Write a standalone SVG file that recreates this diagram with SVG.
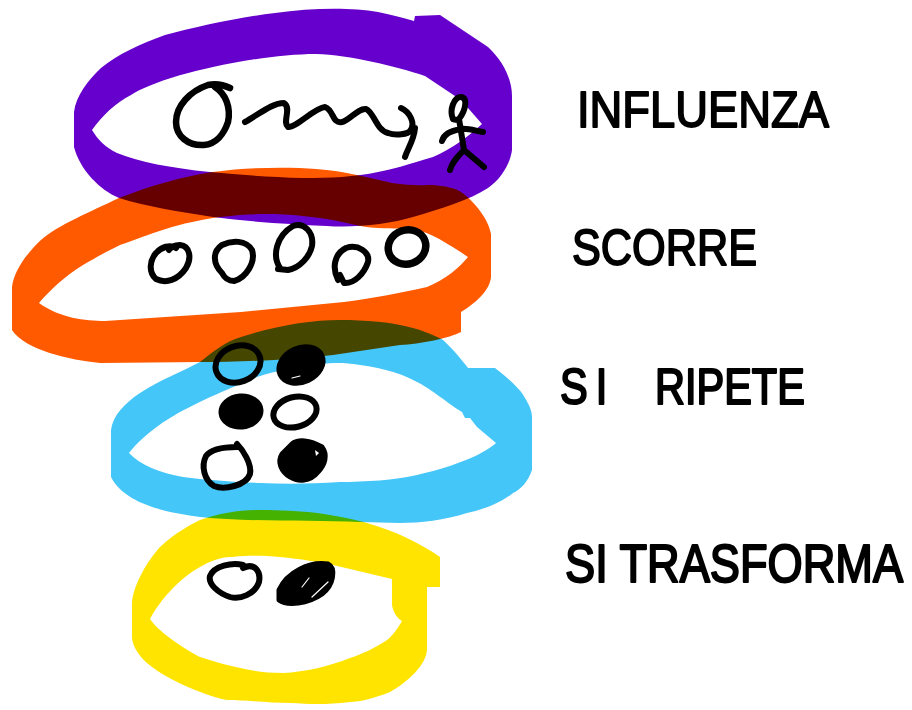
<svg xmlns="http://www.w3.org/2000/svg" width="912" height="710" viewBox="0 0 912 710">
<style>
.ring{fill-rule:evenodd;mix-blend-mode:multiply}
.ink{fill:none;stroke:#000;stroke-width:6;stroke-linecap:round;stroke-linejoin:round}
.solid{fill:#000;stroke:#000;stroke-width:5;stroke-linejoin:round}
.glint{fill:none;stroke:#fff;stroke-width:1.2;stroke-linecap:round}
.label{font-family:"Liberation Sans",Arial,sans-serif;fill:#000;stroke:#000;stroke-width:1.8;stroke-linejoin:round;stroke-linecap:round}
</style>
<rect width="912" height="710" fill="#fff"/>
<g id="ring-influenza">
<path class="ring" fill="#6600cc" d="M74 147L74 112C76 96 88 80 101 68C118 54 140 44 165 35C195 27 240 17 275 13C310 8 350 7 378 12C392 15 404 18 414 21L415 16L440 15L488 47C502 60 512 78 512 96L512 150C510 165 500 180 488 188C470 200 440 209 413 217C390 224 355 228 327 226C290 224 250 222 213 217C180 212 145 206 119 198C100 190 80 170 74 147Z M92 130C102 116 115 103 131 95C150 83 185 73 213 67C245 60 285 54 316 54C350 55 395 66 425 76L461 100L482 124C470 135 452 149 433 157C410 164 390 170 378 172C355 177 330 178 303 178C270 177 240 175 210 172C170 168 140 162 117 153C105 147 98 140 92 130Z"/>
</g>
<g id="ring-scorre">
<path class="ring" fill="#ff5a00" d="M12 330L12 287C14 270 28 252 41 240C58 225 90 212 119 198C150 186 180 177 213 172C250 167 290 167 316 169C345 171 370 178 392 183C410 186 425 185 433 185C445 186 455 188 461 192C470 198 488 216 491 234L491 277C490 290 476 303 461 312L461 332C450 338 420 344 400 345L333 355C290 360 240 362 200 362L100 363C70 360 25 350 12 330Z M39 303C50 290 65 276 83 265C100 255 110 250 120 245C140 238 155 232 172 227C190 222 205 219 220 217C245 214 260 214 275 214C300 215 325 218 342 222C355 225 370 228 378 228C395 229 405 228 416 230C430 232 450 245 468 257C460 267 445 280 427 287C400 293 375 298 344 302L241 312L105 321C85 321 60 318 39 303Z"/>
</g>
<g id="ring-ripete">
<path class="ring" fill="#45c6f8" d="M111 477L111 430C113 415 125 403 140 393C160 380 185 370 200 362C215 350 225 342 241 337C275 326 310 320 340 320C365 320 392 322 413 328C430 333 440 338 443 340C452 348 462 360 468 368L495 368C505 376 520 388 525 398C530 406 532 412 532 417L532 470C528 482 520 490 513 493C498 505 480 510 467 513C445 520 420 523 400 523L360 522C310 520 250 522 200 517C170 513 125 505 111 477Z M129 453C135 445 150 430 170 418C190 405 230 388 257 377C280 369 320 362 343 363C370 365 400 372 417 382C430 388 450 405 462 412L465 418L470 418L477 427L496 443C485 453 460 465 417 475C395 480 365 482 340 482C310 484 285 484 260 483C235 482 205 480 183 477C160 473 140 465 129 453Z"/>
</g>
<g id="ring-trasforma">
<path class="ring" fill="#ffe400" d="M132 637L132 603C133 585 148 560 160 547C175 533 190 525 200 520C220 513 240 510 260 510C280 510 300 511 317 513C340 516 355 520 367 523C395 531 420 543 440 557L440 587L427 587L427 650C426 665 408 682 390 692C375 698 360 702 350 702C325 705 310 704 290 703C270 703 245 700 227 700C200 695 160 675 147 663C138 655 132 645 132 637Z M150 619C160 600 180 578 200 567C215 558 225 557 233 557C250 555 265 556 280 557C300 559 320 562 333 565L392 579L392 605C393 612 397 618 402 621C397 630 390 638 387 640C375 648 360 655 350 658C330 666 305 672 283 673C270 673 260 672 250 670C230 666 215 662 200 657C190 652 160 634 150 619Z"/>
</g>
<g id="sketch-influenza">
<path class="ink" style="stroke-width:6.5" d="M230 88C222 84 216 83 208 85C190 91 176 106 176 122C176 136 188 146 204 145C216 144 224 134 228 122C231 108 226 94 215 87"/>
<path class="ink" d="M245 122C258 115 272 103 284 103C292 108 282 122 288 127C296 128 314 108 325 107C334 110 332 124 342 122C350 120 358 108 366 109C374 112 376 130 388 133C396 136 408 134 410 131C416 124 410 112 401 108M415 128C414 140 408 148 405 157"/>
<path class="ink" d="M453 119C449 110 454 97 461 97C468 97 466 110 459 119C456 120 454 120 453 119M459 119L464 150M442 141C444 134 450 131 461 129C468 128 476 131 483 132M464 150C458 156 452 162 450 170M464 150L484 167"/>
</g>
<g id="sketch-scorre">
<path class="ink" d="M176 248C170 244 162 247 156 253C150 260 148 272 156 279C166 284 178 280 186 268C192 258 190 246 180 245C174 245 170 248 169 250"/>
<path class="ink" d="M222 273C213 264 212 252 222 245C232 240 246 240 252 250C256 262 246 278 234 281C228 281 224 277 222 273Z"/>
<path class="ink" d="M280 268C272 256 276 236 293 226C304 222 314 232 312 246C310 256 300 268 288 270L278 269"/>
<path class="ink" d="M338 280C332 268 334 254 346 248C358 244 370 252 368 262C364 274 354 284 344 283L340 275"/>
<ellipse class="ink" style="stroke-width:7.5" cx="407" cy="247" rx="19" ry="17" transform="rotate(-20 407 247)"/>
</g>
<g id="sketch-ripete">
<ellipse class="ink" cx="238" cy="364" rx="23" ry="18" transform="rotate(-20 238 364)"/>
<ellipse class="solid" cx="301" cy="365" rx="23" ry="17" transform="rotate(-25 301 365)"/>
<path class="glint" d="M292 378L300 376"/>
<ellipse class="solid" cx="241" cy="411.5" rx="20" ry="15.5" transform="rotate(-5 241 411.5)"/>
<ellipse class="ink" cx="295" cy="412" rx="22" ry="15" transform="rotate(-15 295 412)"/>
<path class="ink" d="M237 444C243 450 252 464 250 474C246 486 224 490 214 486C204 480 201 466 206 456C212 448 226 447 237 447"/>
<path class="solid" d="M292 444C298 439 310 440 322 447C328 455 325 465 318 472C310 482 298 482 290 477C281 471 277 462 282 454Z"/>
<path d="M315 450L319 453L316 456Z" fill="#fff"/>
</g>
<g id="sketch-trasforma">
<path class="ink" d="M243 568C255 562 261 572 259 582C255 594 240 600 230 597C218 593 208 584 210 576C214 566 232 562 243 565"/>
<path class="solid" d="M279 590C287 572 310 561 328 564C336 568 334 585 322 594C308 604 287 606 279 600Z"/>
<path class="glint" d="M302 587L309 578M312 597L328 582"/>
</g>
<g id="labels">
<text class="label" x="577" y="127" style="font-size:50px" textLength="252" lengthAdjust="spacingAndGlyphs">INFLUENZA</text>
<text class="label" x="572" y="265" style="font-size:50px" textLength="185" lengthAdjust="spacingAndGlyphs">SCORRE</text>
<text class="label" transform="translate(560 404) scale(1 1.2)" style="font-size:41.5px"><tspan style="letter-spacing:8px">SI</tspan><tspan x="95">RIPETE</tspan></text>
<text class="label" transform="translate(565 582) scale(1 1.2)" style="font-size:45.2px">SI TRASFORMA</text>
</g>
</svg>
